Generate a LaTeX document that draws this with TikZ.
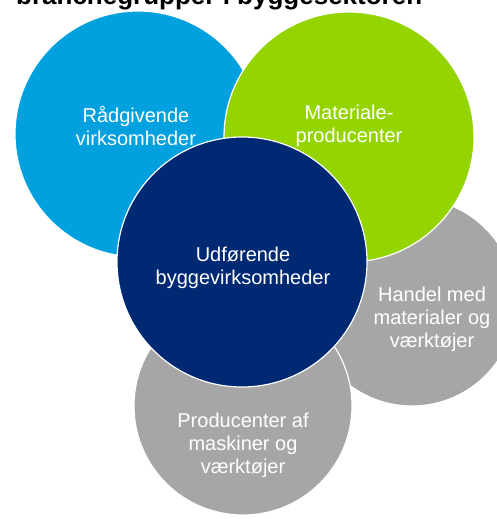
\documentclass[tikz,border=0pt]{standalone}
\usepackage{fontspec}
\setmainfont{Liberation Sans}
\usepackage{xcolor}

\definecolor{raadblue}{RGB}{0,161,222}
\definecolor{matgreen}{RGB}{148,212,0}
\definecolor{udfnavy}{RGB}{0,41,116}
\definecolor{grpgray}{RGB}{166,166,166}

\begin{document}
\begin{tikzpicture}[
    x=1pt, y=-1pt,
    bubble/.style = {circle, draw=white, line width=1.2pt, inner sep=0pt},
    lbl/.style    = {text=white, align=center, inner sep=0pt,
                     font=\fontsize{20}{23}\selectfont},
]
\useasboundingbox (0,0) rectangle (496,519);

% heading, mostly cut by the top edge
\node[anchor=base west, inner sep=0pt,
      font=\bfseries\fontsize{26}{30}\selectfont] (title) at (16,5)
    {branchegrupper i byggesektoren};

% ============ circles, back to front ============
\node[bubble, fill=grpgray,  minimum size=208pt] (handel) at (412,302) {};
\node[bubble, fill=raadblue, minimum size=246pt] (raad)   at (138,134) {};
\node[bubble, fill=matgreen, minimum size=250pt] (mat)    at (349,137) {};
\node[bubble, fill=grpgray,  minimum size=218pt] (maskin) at (243,406) {};
\node[bubble, fill=udfnavy,  minimum size=250pt] (udf)    at (242,262) {};

% ============ labels ============
\node[lbl] (raadtxt)   at (136,126) {Rådgivende\\virksomheder};
\node[lbl] (mattxt)    at (349,126) {Materiale-\\producenter};
\node[lbl] (udftxt)    at (243,268) {Udførende\\byggevirksomheder};
\node[lbl] (handeltxt) at (432,319) {Handel med\\materialer og\\værktøjer};
\node[lbl] (maskintxt) at (243,445) {Producenter af\\maskiner og\\værktøjer};

\end{tikzpicture}
\end{document}
